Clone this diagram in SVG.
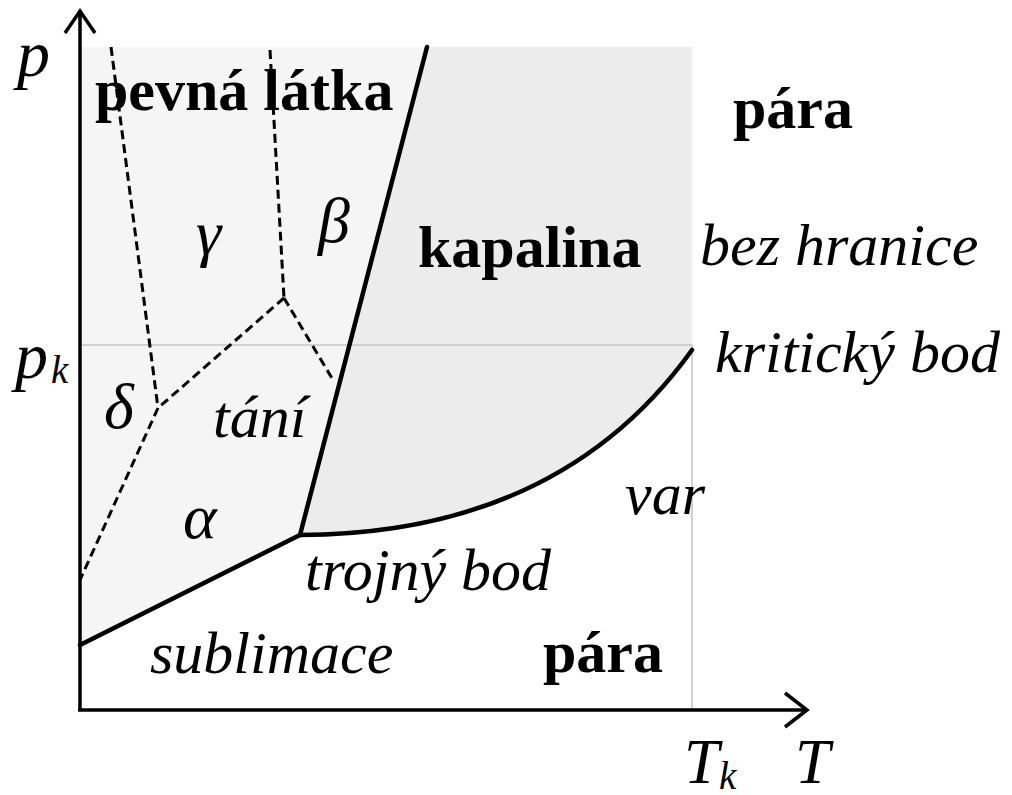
<svg xmlns="http://www.w3.org/2000/svg" width="1012" height="795" viewBox="0 0 1012 795">
<style>
.it{font-family:"Liberation Serif","Times New Roman",serif;font-style:italic;font-size:60px;fill:#000}
.bd{font-family:"Liberation Serif","Times New Roman",serif;font-weight:bold;font-size:60px;fill:#000}
.gk{font-size:64px}
.big{font-size:66px}
.tt{font-size:63px}
.sub{font-size:39px}
.thick{fill:none;stroke:#000;stroke-width:4.5;stroke-linejoin:round;stroke-linecap:round}
.dash{fill:none;stroke:#000;stroke-width:3;stroke-dasharray:9 5}
.guide{fill:none;stroke:#c4c4c4;stroke-width:1.5}
.axis{fill:none;stroke:#000;stroke-width:3.5}
</style>
<rect width="1012" height="795" fill="#fff"/>
<g id="regions">
<path id="solid" d="M80,47 L427,47 L300,535 L80,645 Z" fill="#f5f5f5"/>
<path id="liquid" d="M427,47 L692,47 L692,350 Q560,534 300,535 Z" fill="#ececec"/>
</g>
<g id="guides">
<line class="guide" x1="80" y1="345" x2="692" y2="345"/>
<line class="guide" x1="692" y1="345" x2="692" y2="710"/>
</g>
<g id="connectors">
<path class="dash" d="M111,47 L158,408"/>
<path class="dash" d="M270,50 L284,298"/>
<path class="dash" d="M284,298 L333,380"/>
<path class="dash" d="M284,298 L158,408"/>
<path class="dash" d="M158,408 L80,580"/>
<path class="thick" d="M80,645 L300,535"/>
<path class="thick" d="M300,535 L427,47"/>
<path class="thick" d="M300,535 Q560,534 692,350"/>
</g>
<g id="axes">
<line class="axis" x1="80" y1="12" x2="80" y2="711"/>
<polyline class="axis" points="65,33 80,11 95,33"/>
<line class="axis" x1="78" y1="710" x2="806" y2="710"/>
<polyline class="axis" points="785,693 807,710 785,727"/>
</g>
<g id="labels">
<text class="it big" x="17" y="76">p</text>
<text class="it big" x="15" y="378">p<tspan class="sub" dx="3" dy="5">k</tspan></text>
<text class="it tt" x="684" y="783">T<tspan class="sub" dx="0" dy="6">k</tspan></text>
<text class="it tt" x="795" y="783">T</text>
<text class="bd" x="95" y="110">pevná látka</text>
<text class="bd" x="733" y="128">pára</text>
<text class="bd" x="418" y="267">kapalina</text>
<text class="bd" x="543" y="672">pára</text>
<text class="it" x="700" y="265">bez hranice</text>
<text class="it" x="715" y="372">kritický bod</text>
<text class="it" x="625" y="514">var</text>
<text class="it" x="305" y="590">trojný bod</text>
<text class="it" x="150" y="673">sublimace</text>
<text class="it" x="213" y="437">tání</text>
<text class="it gk" x="196" y="254">γ</text>
<text class="it gk" x="318" y="242">β</text>
<text class="it gk" x="104" y="428">δ</text>
<text class="it gk" x="183" y="538">α</text>
</g>
</svg>
